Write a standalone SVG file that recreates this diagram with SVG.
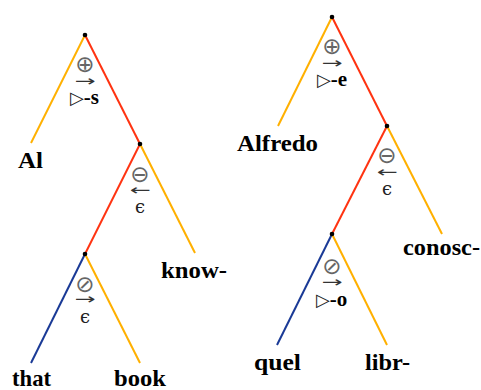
<svg xmlns="http://www.w3.org/2000/svg" width="481" height="390" viewBox="0 0 481 390">
<style>
.y{stroke:#FFB000;stroke-width:2;fill:none}
.r{stroke:#FF3311;stroke-width:2;fill:none}
.b{stroke:#1A3A96;stroke-width:2;fill:none}
.dot{fill:#000}
.leaf{font-family:"Liberation Serif",serif;font-weight:bold;font-size:23px;fill:#000}
.sym{font-family:"DejaVu Sans",sans-serif;font-size:23px;fill:#666;text-anchor:middle}
.arr{font-family:"DejaVu Sans",sans-serif;font-size:15px;fill:#333;text-anchor:middle}
.eps{font-family:"DejaVu Serif",serif;font-size:18px;fill:#222;text-anchor:middle}
.tri{font-family:"DejaVu Sans",sans-serif;font-size:18px;fill:#222}
.suf{font-family:"Liberation Serif",serif;font-weight:bold;font-size:21px;fill:#000}
</style>
<rect width="481" height="390" fill="#fff"/>
<g id="connectors">
<line class="y" x1="85" y1="35" x2="31" y2="143"/>
<line class="r" x1="85" y1="35" x2="140" y2="144"/>
<line class="r" x1="140" y1="144" x2="85" y2="254"/>
<line class="y" x1="140" y1="144" x2="195" y2="253"/>
<line class="b" x1="85" y1="254" x2="31" y2="363"/>
<line class="y" x1="85" y1="254" x2="140" y2="363"/>
<line class="y" x1="332" y1="17" x2="278" y2="126"/>
<line class="r" x1="332" y1="17" x2="387" y2="126"/>
<line class="r" x1="387" y1="126" x2="332" y2="234"/>
<line class="y" x1="387" y1="126" x2="442" y2="234"/>
<line class="b" x1="332" y1="234" x2="277" y2="345"/>
<line class="y" x1="332" y1="234" x2="387" y2="345"/>
</g>
<g id="n1">
<circle class="dot" cx="85" cy="35" r="2.3"/>
<text class="sym" x="85" y="72">⊕</text>
<text class="arr" x="85" y="86" textLength="21" lengthAdjust="spacingAndGlyphs">→</text>
<text x="70" y="104"><tspan class="tri">▷</tspan><tspan class="suf">-s</tspan></text>
</g>
<g id="n2">
<circle class="dot" cx="140" cy="144" r="2.3"/>
<text class="sym" x="140" y="182">⊖</text>
<text class="arr" x="140" y="195" textLength="21" lengthAdjust="spacingAndGlyphs">←</text>
<text class="eps" x="140" y="213">ϵ</text>
</g>
<g id="n3">
<circle class="dot" cx="85" cy="254" r="2.3"/>
<text class="sym" x="85" y="292">⊘</text>
<text class="arr" x="85" y="304" textLength="21" lengthAdjust="spacingAndGlyphs">→</text>
<text class="eps" x="85" y="323">ϵ</text>
</g>
<g id="leaf-al"><text class="leaf" x="18" y="168" textLength="25" lengthAdjust="spacingAndGlyphs">Al</text></g>
<g id="leaf-know"><text class="leaf" x="161" y="278" textLength="66" lengthAdjust="spacingAndGlyphs">know-</text></g>
<g id="leaf-that"><text class="leaf" x="12" y="386" textLength="39" lengthAdjust="spacingAndGlyphs">that</text></g>
<g id="leaf-book"><text class="leaf" x="114" y="386" textLength="52" lengthAdjust="spacingAndGlyphs">book</text></g>
<g id="m1">
<circle class="dot" cx="332" cy="17" r="2.3"/>
<text class="sym" x="332" y="54">⊕</text>
<text class="arr" x="332" y="68" textLength="21" lengthAdjust="spacingAndGlyphs">→</text>
<text x="317" y="86"><tspan class="tri">▷</tspan><tspan class="suf">-e</tspan></text>
</g>
<g id="m2">
<circle class="dot" cx="387" cy="126" r="2.3"/>
<text class="sym" x="387" y="163">⊖</text>
<text class="arr" x="387" y="177" textLength="21" lengthAdjust="spacingAndGlyphs">←</text>
<text class="eps" x="387" y="195">ϵ</text>
</g>
<g id="m3">
<circle class="dot" cx="332" cy="234" r="2.3"/>
<text class="sym" x="332" y="274">⊘</text>
<text class="arr" x="332" y="287" textLength="21" lengthAdjust="spacingAndGlyphs">→</text>
<text x="316" y="306"><tspan class="tri">▷</tspan><tspan class="suf">-o</tspan></text>
</g>
<g id="leaf-alfredo"><text class="leaf" x="237" y="151" textLength="81" lengthAdjust="spacingAndGlyphs">Alfredo</text></g>
<g id="leaf-conosc"><text class="leaf" x="403" y="255" textLength="77" lengthAdjust="spacingAndGlyphs">conosc-</text></g>
<g id="leaf-quel"><text class="leaf" x="254" y="370" textLength="47" lengthAdjust="spacingAndGlyphs">quel</text></g>
<g id="leaf-libr"><text class="leaf" x="365" y="370" textLength="45" lengthAdjust="spacingAndGlyphs">libr-</text></g>
</svg>
